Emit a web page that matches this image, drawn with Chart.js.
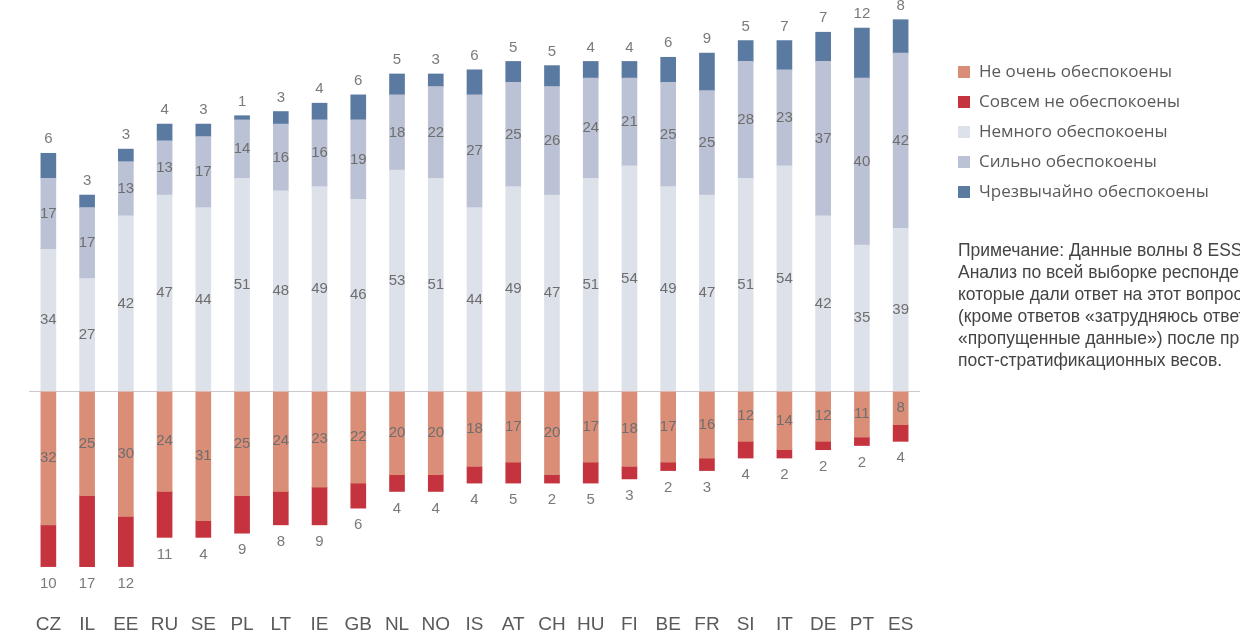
<!DOCTYPE html>
<html lang="ru">
<head>
    <meta charset="UTF-8">
    <title>Обеспокоенность</title>
    <script src="https://cdn.jsdelivr.net/npm/chart.js"></script>
    <style>
        body {
            margin: 0;
            padding: 0;
            background: #ffffff;
            width: 1240px;
            height: 632px;
            overflow: hidden;
            position: relative;
        }
        #grafica {
            position: absolute;
            left: 0;
            top: 0;
        }
        /* Leyenda */
        .leyenda {
            position: absolute;
            left: 958px;
            top: 60px;
            font-family: 'Open Sans', sans-serif;
            font-size: 17px;
            color: #5a5a5a;
        }
        .leyenda div {
            height: 30px;
            line-height: 22px;
            white-space: nowrap;
        }
        .leyenda span {
            display: inline-block;
            width: 12px;
            height: 12px;
            margin-right: 9px;
            vertical-align: -1px;
        }
        .nota {
            position: absolute;
            left: 958px;
            top: 239px;
            font-family: 'Liberation Sans', Arial, sans-serif;
            font-size: 17.5px;
            line-height: 22px;
            color: #444;
            white-space: nowrap;
        }
    </style>
</head>
<body>
    <canvas id="grafica" width="1240" height="632"></canvas>
    <div class="leyenda" id="leyenda"></div>
    <div class="nota">
        Примечание: Данные волны 8 ESS.<br>
        Анализ по всей выборке респондентов,<br>
        которые дали ответ на этот вопрос<br>
        (кроме ответов «затрудняюсь ответить» и<br>
        «пропущенные данные») после применения<br>
        пост-стратификационных весов.
    </div>
    <script>
        // Datos
        const paises = ['CZ','IL','EE','RU','SE','PL','LT','IE','GB','NL','NO','IS','AT','CH','HU','FI','BE','FR','SI','IT','DE','PT','ES'];
        const nemnogo     = [34,27,42,47,44,51,48,49,46,53,51,44,49,47,51,54,49,47,51,54,42,35,39];
        const silno       = [17,17,13,13,17,14,16,16,19,18,22,27,25,26,24,21,25,25,28,23,37,40,42];
        const chrezvych   = [6,3,3,4,3,1,3,4,6,5,3,6,5,5,4,4,6,9,5,7,7,12,8];
        const neOchen     = [32,25,30,24,31,25,24,23,22,20,20,18,17,20,17,18,17,16,12,14,12,11,8];
        const sovsemNe    = [10,17,12,11,4,9,8,9,6,4,4,4,5,2,5,3,2,3,4,2,2,2,4];

        const colores = {
            neOchen: '#da8e78',
            sovsemNe: '#c5333f',
            nemnogo: '#dde1ea',
            silno: '#bcc2d5',
            chrezvych: '#5b7aa2'
        };

        const negativo = arr => arr.map(v => -v);

        // pos: 'in' = centro, 'top' = encima, 'bottom' = debajo
        const datasets = [
            { label: 'Немного обеспокоены', data: nemnogo, backgroundColor: colores.nemnogo, pos: 'in' },
            { label: 'Сильно обеспокоены', data: silno, backgroundColor: colores.silno, pos: 'in' },
            { label: 'Чрезвычайно обеспокоены', data: chrezvych, backgroundColor: colores.chrezvych, pos: 'top' },
            { label: 'Не очень обеспокоены', data: negativo(neOchen), backgroundColor: colores.neOchen, pos: 'in' },
            { label: 'Совсем не обеспокоены', data: negativo(sovsemNe), backgroundColor: colores.sovsemNe, pos: 'bottom' }
        ];
        datasets.forEach(d => { d.barThickness = 15; d.borderWidth = 0; });

        // Linea del cero + etiquetas
        const etiquetas = {
            id: 'etiquetas',
            beforeDatasetsDraw(chart) {
                const ctx = chart.ctx;
                const y0 = chart.scales.y.getPixelForValue(0);
                ctx.save();
                ctx.strokeStyle = '#c9c9ce';
                ctx.lineWidth = 1;
                ctx.beginPath();
                ctx.moveTo(chart.chartArea.left, Math.round(y0) + 0.5);
                ctx.lineTo(chart.chartArea.right, Math.round(y0) + 0.5);
                ctx.stroke();
                ctx.restore();
            },
            afterDatasetsDraw(chart) {
                const ctx = chart.ctx;
                ctx.save();
                ctx.font = '15px "Liberation Sans", Arial, sans-serif';
                ctx.textAlign = 'center';
                ctx.textBaseline = 'middle';
                chart.data.datasets.forEach((ds, i) => {
                    const meta = chart.getDatasetMeta(i);
                    meta.data.forEach((bar, j) => {
                        const val = Math.abs(ds.data[j]);
                        const arriba = Math.min(bar.y, bar.base);
                        const abajo = Math.max(bar.y, bar.base);
                        let y;
                        if (ds.pos === 'top') {
                            y = arriba - 14;
                            ctx.fillStyle = '#7a7a7a';
                        } else if (ds.pos === 'bottom') {
                            y = abajo + 17;
                            ctx.fillStyle = '#7a7a7a';
                        } else {
                            y = (arriba + abajo) / 2;
                            ctx.fillStyle = '#6e6e6e';
                        }
                        ctx.fillText(String(val), bar.x, y);
                    });
                });
                ctx.restore();
            }
        };

        const ctx = document.getElementById('grafica').getContext('2d');
        window.miGrafico = new Chart(ctx, {
            type: 'bar',
            data: { labels: paises, datasets: datasets },
            options: {
                responsive: false,
                animation: false,
                layout: { padding: { left: 29, right: 320, top: 3, bottom: 0 } },
                plugins: {
                    legend: { display: false },
                    tooltip: { enabled: false }
                },
                scales: {
                    x: {
                        stacked: true,
                        grid: { display: false, drawTicks: false },
                        border: { display: false },
                        afterFit: scale => { scale.height = 32; },
                        ticks: {
                            padding: 13,
                            color: '#5a5a5a',
                            font: { family: '"Liberation Sans", Arial, sans-serif', size: 19 }
                        }
                    },
                    y: {
                        stacked: true,
                        display: false,
                        min: -50,
                        max: 93
                    }
                }
            },
            plugins: [etiquetas]
        });

        // Leyenda en HTML (orden del original)
        const ordenLeyenda = [
            ['Не очень обеспокоены', colores.neOchen],
            ['Совсем не обеспокоены', colores.sovsemNe],
            ['Немного обеспокоены', colores.nemnogo],
            ['Сильно обеспокоены', colores.silno],
            ['Чрезвычайно обеспокоены', colores.chrezvych]
        ];
        const leyenda = document.getElementById('leyenda');
        ordenLeyenda.forEach(([texto, color]) => {
            const fila = document.createElement('div');
            const cuadro = document.createElement('span');
            cuadro.style.backgroundColor = color;
            fila.appendChild(cuadro);
            fila.appendChild(document.createTextNode(texto));
            leyenda.appendChild(fila);
        });
    </script>
</body>
</html>
